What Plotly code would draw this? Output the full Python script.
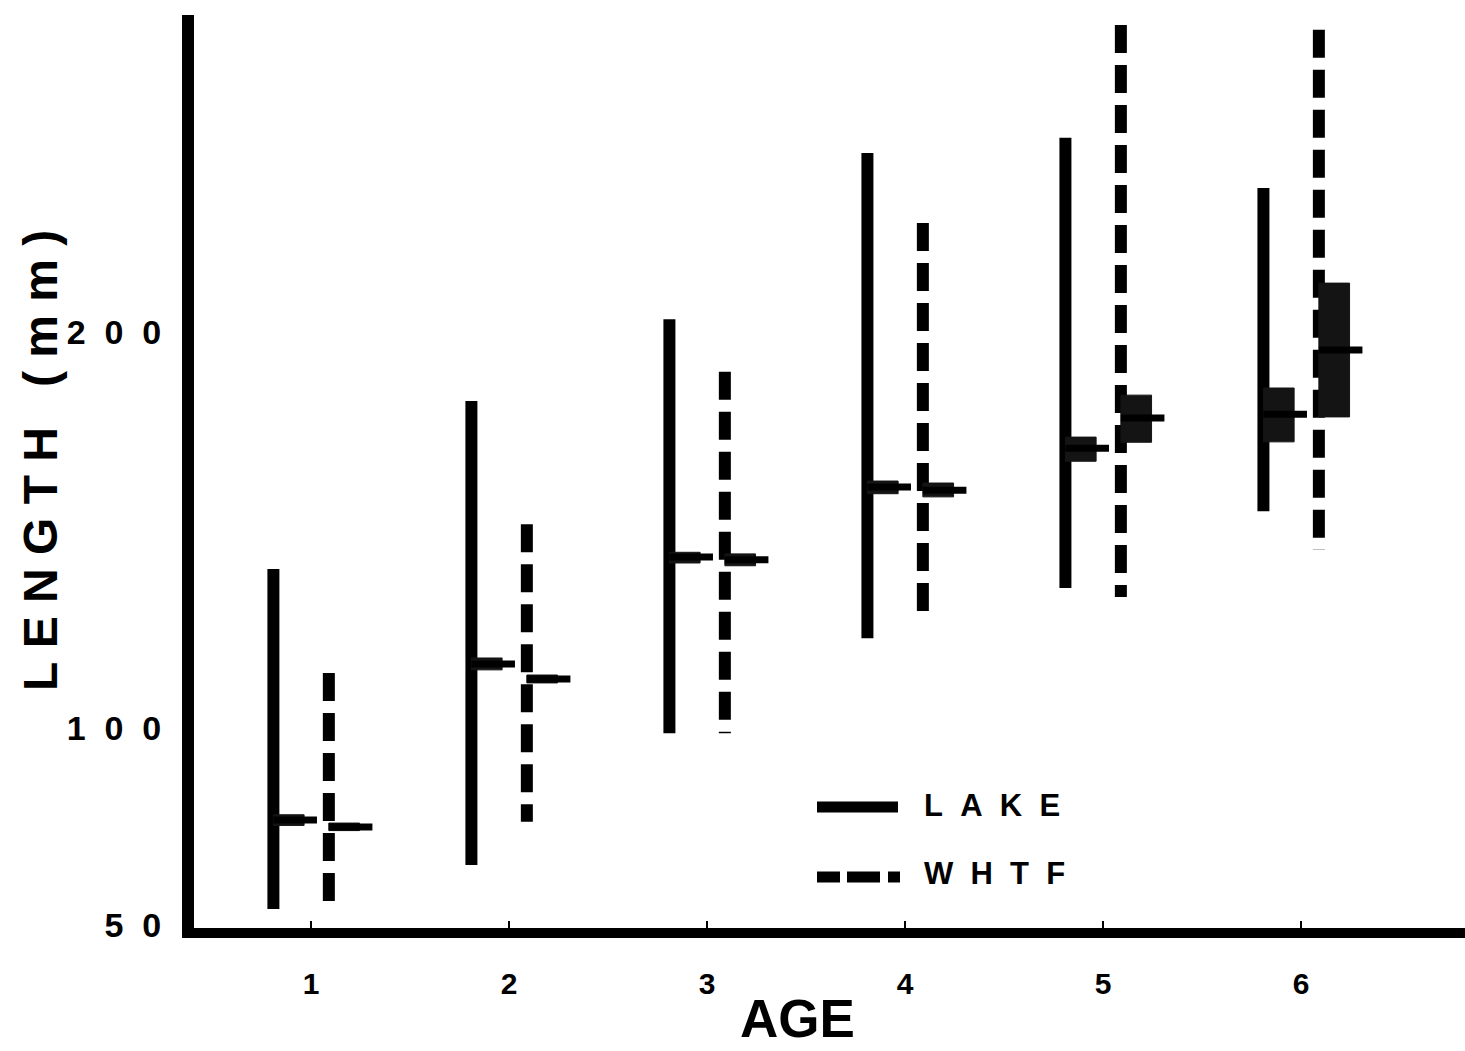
import plotly.graph_objects as go

# ---------------- data ----------------
ages = [1, 2, 3, 4, 5, 6]
age_labels = ["1", "2", "3", "4", "5", "6"]

lake_min = [54.2, 65.3, 98.6, 122.6, 135.3, 154.7]
lake_max = [140.1, 182.5, 203.2, 245.2, 249.0, 236.3]
lake_mean = [76.7, 116.1, 143.1, 160.8, 170.6, 179.2]
lake_box_lo = [75.3, 114.6, 141.6, 159.1, 167.3, 172.2]
lake_box_hi = [78.0, 117.6, 144.3, 162.3, 173.4, 185.8]

whtf_min = [54.7, 76.2, 98.6, 126.7, 133.0, 144.9]
whtf_max = [113.8, 151.4, 189.9, 227.5, 277.5, 276.3]
whtf_mean = [74.9, 112.3, 142.4, 160.0, 178.2, 195.4]
whtf_box_lo = [74.0, 111.3, 140.9, 158.3, 172.1, 178.5]
whtf_box_hi = [75.9, 113.3, 143.9, 161.8, 184.0, 212.3]

y_tickvals = [50, 100, 200]
y_ticktext = ["5\u00a0\u00a00", "1\u00a0\u00a00\u00a0\u00a00", "2\u00a0\u00a00\u00a0\u00a00"]

# ---------------- layout constants ----------------
W, H = 1465, 1051
ML, MR, MT, MB = 194, 0, 15, 123
PW, PH = W - ML - MR, H - MT - MB
LAKE_OFF, WHTF_OFF = -0.19, 0.09
BOX_W, TICK_W = 0.155, 0.22
FONT = "Liberation Sans, Arial, Helvetica, sans-serif"


def px_x(p):
    return (p - ML) / PW


def px_y(p):
    return (H - MB - p) / PH


def range_xy(off, lo, hi):
    xs, ys = [], []
    for a, l, h in zip(ages, lo, hi):
        x = a + off
        xs += [x, x, None]
        ys += [h, l, None]
    return xs, ys


def box_xy(off, lo, hi):
    xs, ys = [], []
    for a, l, h in zip(ages, lo, hi):
        x0 = a + off
        x1 = x0 + BOX_W
        xs += [x0, x1, x1, x0, x0, None]
        ys += [l, l, h, h, l, None]
    return xs, ys


def mean_xy(off, m):
    xs, ys = [], []
    for a, v in zip(ages, m):
        xs += [a + off, a + off + TICK_W, None]
        ys += [v, v, None]
    return xs, ys


fig = go.Figure()

for name, off, lo, hi, blo, bhi, mn, dash in [
    ("LAKE", LAKE_OFF, lake_min, lake_max, lake_box_lo, lake_box_hi, lake_mean, "solid"),
    ("WHTF", WHTF_OFF, whtf_min, whtf_max, whtf_box_lo, whtf_box_hi, whtf_mean, "28px,12px"),
]:
    rx, ry = range_xy(off, lo, hi)
    fig.add_trace(go.Scatter(x=rx, y=ry, mode="lines", name=name, showlegend=False,
                             line=dict(color="black", width=12, dash=dash)))
    bx, by = box_xy(off, blo, bhi)
    fig.add_trace(go.Scatter(x=bx, y=by, mode="lines", fill="toself", fillcolor="#141414",
                             line=dict(color="#141414", width=1), showlegend=False))
    mx, my = mean_xy(off, mn)
    fig.add_trace(go.Scatter(x=mx, y=my, mode="lines", showlegend=False,
                             line=dict(color="black", width=7)))

# legend drawn by hand
shapes = [
    dict(type="line", xref="paper", yref="paper", x0=px_x(817), x1=px_x(898),
         y0=px_y(807), y1=px_y(807), line=dict(color="black", width=11)),
]
for a, b in [(817, 840), (847, 880), (888, 900)]:
    shapes.append(dict(type="line", xref="paper", yref="paper", x0=px_x(a), x1=px_x(b),
                       y0=px_y(877), y1=px_y(877), line=dict(color="black", width=11)))

annotations = [
    dict(text="L\u00a0\u00a0A\u00a0\u00a0K\u00a0\u00a0E", xref="paper", yref="paper",
         x=px_x(922), y=px_y(805), xanchor="left", yanchor="middle", showarrow=False,
         font=dict(family=FONT, size=31, color="black", weight="bold")),
    dict(text="W\u00a0\u00a0H\u00a0\u00a0T\u00a0\u00a0F", xref="paper", yref="paper",
         x=px_x(922), y=px_y(873), xanchor="left", yanchor="middle", showarrow=False,
         font=dict(family=FONT, size=31, color="black", weight="bold")),
    dict(text="L\u00a0E\u00a0N\u00a0G\u00a0T\u00a0H\u00a0\u00a0\u00a0(\u00a0m\u00a0m\u00a0)",
         xref="paper", yref="paper", x=px_x(40), y=px_y(461), textangle=-90,
         xanchor="center", yanchor="middle", showarrow=False,
         font=dict(family=FONT, size=48, color="black", weight="bold")),
    dict(text="AGE", xref="paper", yref="paper", x=px_x(797), y=px_y(1050),
         xanchor="center", yanchor="bottom", showarrow=False,
         font=dict(family=FONT, size=53, color="black", weight="bold")),
]

fig.update_layout(
    width=W, height=H,
    margin=dict(l=ML, r=MR, t=MT, b=MB),
    paper_bgcolor="white", plot_bgcolor="white",
    showlegend=False,
    shapes=shapes, annotations=annotations,
    xaxis=dict(range=[0.409, 6.828], tickvals=ages, ticktext=age_labels,
               tickfont=dict(family=FONT, size=30, color="black", weight="bold"),
               ticks="inside", ticklen=7, tickwidth=2, tickcolor="black",
               showline=True, linewidth=10, linecolor="black",
               showgrid=False, zeroline=False, ticklabelstandoff=20),
    yaxis=dict(range=[49.39, 280.03], tickvals=y_tickvals, ticktext=y_ticktext,
               tickfont=dict(family=FONT, size=34, color="black", weight="bold"),
               ticks="", showline=True, linewidth=12, linecolor="black",
               showgrid=False, zeroline=False, ticklabelstandoff=14),
)

fig.write_html("out.html")
